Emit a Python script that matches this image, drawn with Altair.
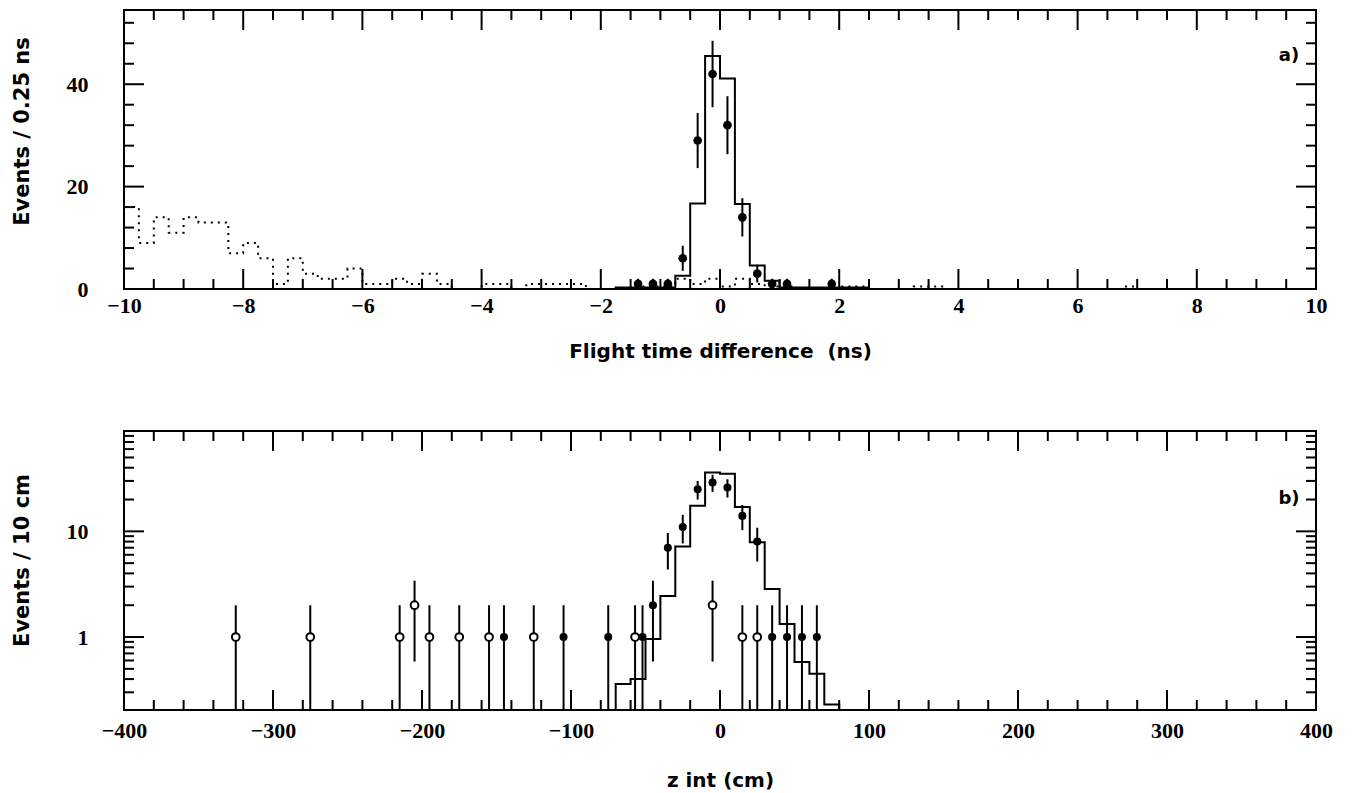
import altair as alt
import pandas as pd

# ---------------- data: panel a (flight time difference) ----------------
a_pts_x = [-1.375, -1.125, -0.875, -0.625, -0.375, -0.125, 0.125, 0.375, 0.625, 0.875, 1.125, 1.875]
a_pts_n = [1, 1, 1, 6, 29, 42, 32, 14, 3, 1, 1, 1]
a_bin = 0.25
a_mc_start = -1.75
a_mc = [0.3, 0.3, 0.3, 0.3, 2.6, 16.7, 45.5, 41.1, 16.6, 4.6, 1.6, 0.3, 0.3, 0.3, 0.3, 0.3, 0.3]
a_bg_start = -10.0
a_bg = [16, 9, 14, 11, 14, 13, 13, 7, 9, 6, 1, 6, 3, 2, 2, 4,
        1, 1, 2, 1, 3, 1, 0, 0, 1, 1, 0, 1, 1, 1, 1, 0,
        0, 0, 0.5, 0.5, 0.5, 2, 1, 2, 0.5, 2, 1, 0.5, 0.5, 0, 0, 0,
        0.5, 0.5, 0, 0, 0, 0.5, 0.5, 0, 0, 0, 0, 0, 0, 0, 0, 0,
        0, 0, 0, 0.5, 0, 0, 0, 0, 0, 0, 0, 0, 0, 0, 0, 0]
a_xmajor = [-10, -8, -6, -4, -2, 0, 2, 4, 6, 8, 10]
a_xminor = [v / 2 for v in range(-20, 21) if v % 4 != 0]
a_ymajor = [0, 20, 40]
a_yminor = [4, 8, 12, 16, 24, 28, 32, 36, 44, 48, 52]

# ---------------- data: panel b (z intercept) ----------------
b_full_x = [-145, -105, -75, -52, -45, -35, -25, -15, -5, 5, 15, 25, 35, 45, 55, 65]
b_full_n = [1, 1, 1, 1, 2, 7, 11, 25, 29, 26, 14, 8, 1, 1, 1, 1]
b_open_x = [-325, -275, -215, -205, -195, -175, -155, -125, -57, -5, 15, 25]
b_open_n = [1, 1, 1, 2, 1, 1, 1, 1, 1, 2, 1, 1]
b_bin = 10
b_mc_start = -70
b_mc = [0.36, 0.40, 0.96, 2.44, 7.2, 17.5, 36, 35, 17, 7.9, 2.85, 1.33, 0.58, 0.45, 0.23]
b_xmajor = [-400, -300, -200, -100, 0, 100, 200, 300, 400]
b_xminor = [v for v in range(-380, 400, 20) if v % 100 != 0]
b_ymajor = [1, 10]
b_yminor = [0.3, 0.4, 0.5, 0.6, 0.7, 0.8, 0.9, 2, 3, 4, 5, 6, 7, 8, 9, 20, 30, 40, 50, 60, 70, 80]

W = 1192
H = 279
YMIN_B = 0.204

TICK_FONT = "Liberation Serif"
TITLE_FONT = "DejaVu Sans"


def step_frame(start, width, values, floor):
    xs, ys = [start], [floor]
    for i, v in enumerate(values):
        xs.append(start + i * width)
        ys.append(v)
    end = start + len(values) * width
    xs += [end, end]
    ys += [values[-1], floor]
    return pd.DataFrame({"x": xs, "y": ys, "i": list(range(len(xs)))})


def err_frame(xs, ns, floor):
    lo = [max(n - n ** 0.5, floor) for n in ns]
    hi = [n + n ** 0.5 for n in ns]
    return pd.DataFrame({"x": xs, "n": ns, "lo": lo, "hi": hi})


def x_axis(title, values, title_y, pad):
    return alt.Axis(title=title, values=values, ticks=False, domain=False, grid=False,
                    labelFont=TICK_FONT, labelFontSize=22, labelFontWeight="bold",
                    labelColor="black", labelPadding=pad, labelFlush=False,
                    labelOverlap=False, format="d", labelAlign="center",
                    titleFont=TITLE_FONT, titleFontSize=20, titleFontWeight="bold",
                    titleColor="black", titleY=title_y, titleBaseline="middle")


def y_axis(title, values, title_y):
    return alt.Axis(title=title, values=values, ticks=False, domain=False, grid=False,
                    labelFont=TICK_FONT, labelFontSize=22, labelFontWeight="bold",
                    labelColor="black", labelPadding=36, labelAlign="right",
                    labelBaseline="middle", labelFlush=False,
                    labelOverlap=False, format="d",
                    titleFont=TITLE_FONT, titleFontSize=21, titleFontWeight="bold",
                    titleColor="black", titleX=-102, titleY=title_y, titleAngle=-90,
                    titleAlign="center", titleBaseline="middle")


def tick_layers(xscale, yscale, xax, yax, xmaj, xmin, ymaj, ymin):
    layers = []
    for vals, ln in ((xmaj, 20), (xmin, 10)):
        df = pd.DataFrame({"v": vals})
        for y0, y1 in ((H, H - ln), (0, ln)):
            layers.append(alt.Chart(df).mark_rule(color="black", strokeWidth=2).encode(
                x=alt.X("v:Q", scale=xscale, axis=xax),
                y=alt.value(y0), y2=alt.value(y1)))
    for vals, ln in ((ymaj, 20), (ymin, 10)):
        df = pd.DataFrame({"v": vals})
        for x0, x1 in ((0, ln), (W, W - ln)):
            layers.append(alt.Chart(df).mark_rule(color="black", strokeWidth=2).encode(
                y=alt.Y("v:Q", scale=yscale, axis=yax),
                x=alt.value(x0), x2=alt.value(x1)))
    return layers


view = alt.ViewConfig(stroke="black", strokeWidth=2, fill="white")

# ---------------- panel a ----------------
xa = alt.Scale(domain=[-10, 10], nice=False, zero=False)
ya = alt.Scale(domain=[0, 54.5], nice=False, zero=False)
xa_ax = x_axis("Flight time difference\u00a0 (ns)", a_xmajor, 62, 6)
ya_ax = y_axis("Events / 0.25 ns", a_ymajor, 121)

a_mc_df = step_frame(a_mc_start, a_bin, a_mc, 0)
a_bg_df = step_frame(a_bg_start, a_bin, a_bg, 0)
a_pts_df = err_frame(a_pts_x, a_pts_n, 0)

a_mc_line = alt.Chart(a_mc_df).mark_line(color="black", strokeWidth=2, interpolate="step-after", clip=True).encode(
    x=alt.X("x:Q", scale=xa, axis=xa_ax), y=alt.Y("y:Q", scale=ya, axis=ya_ax), order="i:Q")
a_bg_line = alt.Chart(a_bg_df).mark_line(color="black", strokeWidth=2, strokeDash=[2, 5],
                                         interpolate="step-after", clip=True).encode(
    x=alt.X("x:Q", scale=xa, axis=xa_ax), y=alt.Y("y:Q", scale=ya, axis=ya_ax), order="i:Q")
a_err = alt.Chart(a_pts_df).mark_rule(color="black", strokeWidth=2, clip=True).encode(
    x=alt.X("x:Q", scale=xa, axis=xa_ax), y=alt.Y("lo:Q", scale=ya, axis=ya_ax), y2="hi:Q")
a_dots = alt.Chart(a_pts_df).mark_point(filled=True, color="black", size=75, opacity=1, shape="circle").encode(
    x=alt.X("x:Q", scale=xa, axis=xa_ax), y=alt.Y("n:Q", scale=ya, axis=ya_ax))
a_lab = alt.Chart(pd.DataFrame({"t": ["a)"]})).mark_text(
    font=TITLE_FONT, fontSize=18, fontWeight="bold", color="black", align="center", baseline="middle").encode(
    text="t:N", x=alt.value(1165), y=alt.value(46))

panel_a = alt.layer(a_mc_line, a_bg_line, a_err, a_dots, a_lab,
                    *tick_layers(xa, ya, xa_ax, ya_ax, a_xmajor, a_xminor, a_ymajor, a_yminor)
                    ).properties(width=W, height=H, view=view)

# ---------------- panel b ----------------
xb = alt.Scale(domain=[-400, 400], nice=False, zero=False)
yb = alt.Scale(type="log", domain=[YMIN_B, 89], nice=False)
xb_ax = x_axis("z int (cm)", b_xmajor, 70, 10)
yb_ax = y_axis("Events / 10 cm", b_ymajor, 129)

b_mc_df = step_frame(b_mc_start, b_bin, b_mc, YMIN_B)
b_full_df = err_frame(b_full_x, b_full_n, YMIN_B)
b_open_df = err_frame(b_open_x, b_open_n, YMIN_B)

b_mc_line = alt.Chart(b_mc_df).mark_line(color="black", strokeWidth=2, interpolate="step-after", clip=True).encode(
    x=alt.X("x:Q", scale=xb, axis=xb_ax), y=alt.Y("y:Q", scale=yb, axis=yb_ax), order="i:Q")
b_err_full = alt.Chart(b_full_df).mark_rule(color="black", strokeWidth=2, clip=True).encode(
    x=alt.X("x:Q", scale=xb, axis=xb_ax), y=alt.Y("lo:Q", scale=yb, axis=yb_ax), y2="hi:Q")
b_err_open = alt.Chart(b_open_df).mark_rule(color="black", strokeWidth=2, clip=True).encode(
    x=alt.X("x:Q", scale=xb, axis=xb_ax), y=alt.Y("lo:Q", scale=yb, axis=yb_ax), y2="hi:Q")
b_dots_full = alt.Chart(b_full_df).mark_point(filled=True, color="black", size=65, opacity=1, shape="circle").encode(
    x=alt.X("x:Q", scale=xb, axis=xb_ax), y=alt.Y("n:Q", scale=yb, axis=yb_ax))
b_dots_open = alt.Chart(b_open_df).mark_point(filled=True, fill="white", stroke="black", strokeWidth=2,
                                              size=60, opacity=1, shape="circle").encode(
    x=alt.X("x:Q", scale=xb, axis=xb_ax), y=alt.Y("n:Q", scale=yb, axis=yb_ax))
b_lab = alt.Chart(pd.DataFrame({"t": ["b)"]})).mark_text(
    font=TITLE_FONT, fontSize=18, fontWeight="bold", color="black", align="center", baseline="middle").encode(
    text="t:N", x=alt.value(1165), y=alt.value(68))

panel_b = alt.layer(b_mc_line, b_err_full, b_err_open, b_dots_full, b_dots_open, b_lab,
                    *tick_layers(xb, yb, xb_ax, yb_ax, b_xmajor, b_xminor, b_ymajor, b_yminor)
                    ).properties(width=W, height=H, view=view)

chart = alt.vconcat(panel_a, panel_b, spacing=142, bounds="flush").properties(
    padding={"left": 1, "top": 0, "right": 0, "bottom": 0}
).configure_view(stroke="black", strokeWidth=2).configure(background="white")

chart.save("out.html", embed_options={"renderer": "svg", "actions": False})
